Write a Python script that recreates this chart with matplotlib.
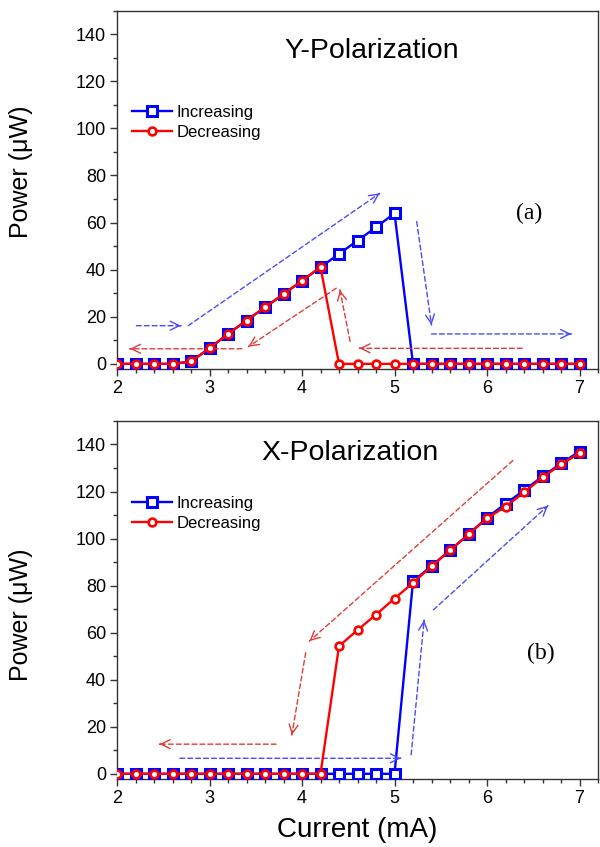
import matplotlib
matplotlib.use("Agg")
import matplotlib.pyplot as plt
from matplotlib.ticker import MultipleLocator

plt.rcParams['font.family'] = ['Liberation Sans', 'DejaVu Sans']

current = [2.0, 2.2, 2.4, 2.6, 2.8, 3.0, 3.2, 3.4, 3.6, 3.8, 4.0, 4.2, 4.4,
           4.6, 4.8, 5.0, 5.2, 5.4, 5.6, 5.8, 6.0, 6.2, 6.4, 6.6, 6.8, 7.0]

# Y-Polarization (a)
y_increasing = [0, 0, 0, 0, 1, 6.6, 12.7, 18.4, 24, 29.6, 35.3, 41, 46.7,
                52.3, 58, 63.9, 0, 0, 0, 0, 0, 0, 0, 0, 0, 0]
y_decreasing = [0, 0, 0, 0, 1, 6.6, 12.7, 18.4, 24, 29.6, 35.3, 41, 0,
                0, 0, 0, 0, 0, 0, 0, 0, 0, 0, 0, 0, 0]

# X-Polarization (b)
x_increasing = [0, 0, 0, 0, 0, 0, 0, 0, 0, 0, 0, 0, 0, 0, 0, 0,
                81.8, 88.4, 95, 101.8, 108.9, 114.8, 120.5, 126.4, 132, 137]
x_decreasing = [0, 0, 0, 0, 0, 0, 0, 0, 0, 0, 0, 0,
                54.3, 61.1, 67.7, 74.5, 81.2, 88.2, 95, 101.8, 108.6, 113.6,
                119.6, 126, 131.5, 136.3]

# guide arrows (start x, start y, end x, end y)
arrows_a_blue = [(2.21, 16.2, 2.69, 16.2), (2.77, 16.2, 4.84, 72.4),
                 (5.24, 60.4, 5.40, 16.5), (5.40, 12.7, 6.91, 12.7)]
arrows_a_red = [(6.38, 6.6, 4.62, 6.6), (4.52, 9.5, 4.41, 31.4),
                (4.37, 32.1, 3.42, 7.3), (3.35, 6.4, 2.14, 6.4)]
arrows_b_blue = [(2.68, 6.6, 5.07, 6.6), (5.18, 8.1, 5.32, 65.4),
                 (5.42, 69.7, 6.66, 114.0)]
arrows_b_red = [(6.28, 133.2, 4.08, 56.4), (4.04, 51.5, 3.89, 16.5),
                (3.72, 12.6, 2.46, 12.6)]

BLUE = '#0000ff'
RED = '#ff0000'
ABLUE = '#4a4aff'
ARED = '#e23a3a'

fig = plt.figure(figsize=(6.0, 8.47), dpi=100)
ax1 = fig.add_axes([0.195, 0.5643, 0.8017, 0.4233])
ax2 = fig.add_axes([0.195, 0.0803, 0.8017, 0.4227])


def draw_arrow(ax, a, color):
    x0, y0, x1, y1 = a
    ax.annotate('', xy=(x1, y1), xytext=(x0, y0),
                arrowprops=dict(arrowstyle='-', color=color, lw=1.0,
                                linestyle=(0, (3.5, 2.2)), shrinkA=0, shrinkB=0))
    f = 0.004
    ax.annotate('', xy=(x1, y1), xytext=(x1 - f * (x1 - x0), y1 - f * (y1 - y0)),
                arrowprops=dict(arrowstyle='->,head_length=0.65,head_width=0.32',
                                color=color, lw=1.0, shrinkA=0, shrinkB=0))


def style_axes(ax):
    ax.set_xlim(2, 7.2)
    ax.set_ylim(-2.2, 150)
    ax.xaxis.set_major_locator(MultipleLocator(1))
    ax.xaxis.set_minor_locator(MultipleLocator(0.2))
    ax.yaxis.set_major_locator(MultipleLocator(20))
    ax.yaxis.set_minor_locator(MultipleLocator(10))
    ax.tick_params(which='both', direction='out', top=False, right=False,
                   labelsize=13, width=1.0, color='#333333')
    ax.tick_params(which='major', length=5, pad=3)
    ax.tick_params(which='minor', length=3)
    for s in ax.spines.values():
        s.set_linewidth(1.0)
        s.set_color('#333333')
    ax.set_ylabel('Power (\u03bcW)', fontsize=18)


def plot_panel(ax, inc, dec):
    ax.plot(current, inc, '-s', color=BLUE, lw=1.7, ms=7.2, mew=2.2,
            mfc='white', mec=BLUE, label='Increasing', zorder=3)
    ax.plot(current, dec, '-o', color=RED, lw=1.7, ms=5.6, mew=1.9,
            mfc='white', mec=RED, label='Decreasing', zorder=4)


plot_panel(ax1, y_increasing, y_decreasing)
plot_panel(ax2, x_increasing, x_decreasing)

for a in arrows_a_blue:
    draw_arrow(ax1, a, ABLUE)
for a in arrows_a_red:
    draw_arrow(ax1, a, ARED)
for a in arrows_b_blue:
    draw_arrow(ax2, a, ABLUE)
for a in arrows_b_red:
    draw_arrow(ax2, a, ARED)

style_axes(ax1)
style_axes(ax2)

ax1.yaxis.set_label_coords(-0.175, 0.55)
ax2.yaxis.set_label_coords(-0.175, 0.46)
ax2.set_xlabel('Current (mA)', fontsize=20)
ax2.xaxis.set_label_coords(0.5, -0.105)

ax1.text(4.75, 132.8, 'Y-Polarization', fontsize=20.5, ha='center', va='center')
ax2.text(4.52, 136.4, 'X-Polarization', fontsize=20.5, ha='center', va='center')
ax1.text(6.46, 64, '(a)', fontsize=17, ha='center', va='center',
         family='Liberation Serif')
ax2.text(6.58, 51.3, '(b)', fontsize=17, ha='center', va='center',
         family='Liberation Serif')

for ax, y in ((ax1, 0.737), (ax2, 0.79)):
    ax.legend(loc='upper left', bbox_to_anchor=(0.031, y), frameon=False,
              fontsize=12, handlelength=2.4, handletextpad=0.3,
              labelspacing=0.3, borderpad=0, borderaxespad=0)

fig.savefig('out.png', dpi=100)
